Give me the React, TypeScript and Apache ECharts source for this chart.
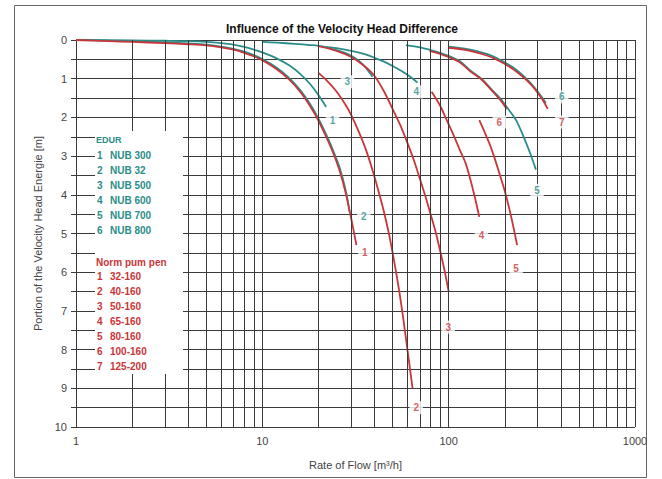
import React, { useEffect, useRef } from 'react';
import * as echarts from 'echarts';

const TEAL = '#2a8d89';
const RED = '#c9363a';
const GRID = '#3a3a3a';

const titleText = 'Influence of the Velocity Head Difference';
const xName = 'Rate of Flow [m³/h]';
const yName = 'Portion of the Velocity Head Energie [m]';

const edurTitle = 'EDUR';
const edurNames = ['NUB 300', 'NUB 32', 'NUB 500', 'NUB 600', 'NUB 700', 'NUB 800'];
const pumpTitle = 'Norm pum pen';
const pumpNames = ['32-160', '40-160', '50-160', '65-160', '80-160', '100-160', '125-200'];

// vertical grid positions (log minor divisions)
const xGridValues = [2, 3, 4, 5, 6, 7, 8, 9, 10, 20, 30, 40, 50, 60, 70, 80, 90, 100, 200, 300, 400, 500, 600, 700, 800, 900, 1000];

// EDUR NUB curves (teal)
const teal1X = [1, 2, 3, 4, 5, 6, 7, 8, 9, 10, 12, 14, 16, 18, 20, 22];
const teal1Y = [0, 0.01, 0.02, 0.03, 0.05, 0.08, 0.12, 0.18, 0.25, 0.32, 0.48, 0.66, 0.88, 1.13, 1.42, 1.73];
const teal2X = [1, 1.5, 2, 3, 4, 5, 6, 7, 8, 9, 10, 12, 14, 16, 18, 20, 22, 24, 26, 28, 29.4];
const teal2Y = [0, 0.02, 0.03, 0.06, 0.09, 0.12, 0.17, 0.23, 0.3, 0.39, 0.49, 0.72, 0.99, 1.3, 1.65, 2.03, 2.44, 2.86, 3.3, 3.88, 4.44];
const teal3X = [10, 12, 15, 18, 20, 22, 25, 28, 30, 33, 36, 39];
const teal3Y = [0.05, 0.07, 0.1, 0.13, 0.15, 0.19, 0.26, 0.34, 0.41, 0.54, 0.72, 0.95];
const teal4X = [21, 25, 30, 35, 40, 45, 50, 55, 60, 65, 68];
const teal4Y = [0.17, 0.21, 0.28, 0.36, 0.46, 0.56, 0.67, 0.78, 0.9, 1.02, 1.1];
const teal5X = [59, 70, 80, 90, 100, 115, 130, 150, 170, 190, 210, 230, 250, 270, 294];
const teal5Y = [0.13, 0.19, 0.26, 0.33, 0.41, 0.55, 0.78, 1.0, 1.28, 1.52, 1.8, 2.07, 2.45, 2.85, 3.35];
const teal6X = [100, 120, 140, 160, 180, 200, 220, 240, 260, 280, 300, 320, 332];
const teal6Y = [0.17, 0.22, 0.28, 0.36, 0.46, 0.58, 0.7, 0.84, 0.99, 1.15, 1.33, 1.51, 1.63];

// Normpumpen curves (red)
const red1X = [1, 1.5, 2, 3, 4, 5, 6, 7, 8, 9, 10, 12, 14, 16, 18, 20, 22, 24, 26, 28, 30, 32];
const red1Y = [0, 0.03, 0.05, 0.08, 0.11, 0.14, 0.19, 0.25, 0.33, 0.42, 0.52, 0.76, 1.03, 1.34, 1.7, 2.08, 2.5, 2.92, 3.38, 3.95, 4.62, 5.3];
const red2X = [20, 22, 25, 28, 30, 33, 36, 39, 42, 45, 48, 51, 54, 57, 60, 64];
const red2Y = [0.85, 1.03, 1.33, 1.68, 1.94, 2.38, 2.84, 3.36, 3.9, 4.45, 5.05, 5.72, 6.42, 7.18, 7.98, 9.0];
const red3X = [20, 25, 30, 35, 40, 45, 50, 55, 60, 65, 70, 75, 80, 85, 90, 95, 100];
const red3Y = [0.16, 0.28, 0.44, 0.66, 0.93, 1.33, 1.78, 2.2, 2.65, 3.1, 3.58, 4.04, 4.5, 4.95, 5.45, 5.95, 6.5];
const red4X = [81, 90, 97, 105, 115, 123, 130, 138, 146];
const red4Y = [1.34, 1.7, 2.04, 2.4, 2.85, 3.17, 3.56, 4.05, 4.57];
const red5X = [146, 155, 165, 175, 187, 200, 212, 223, 233];
const red5Y = [2.07, 2.35, 2.66, 3.0, 3.44, 3.9, 4.38, 4.85, 5.3];
const red6X = [79, 90, 100, 115, 130, 150, 170, 190, 205];
const red6Y = [0.28, 0.36, 0.44, 0.58, 0.8, 1.02, 1.3, 1.56, 1.78];
const red7X = [100, 120, 140, 160, 180, 200, 220, 240, 260, 280, 300, 320, 340];
const red7Y = [0.2, 0.25, 0.32, 0.4, 0.5, 0.62, 0.74, 0.88, 1.02, 1.18, 1.36, 1.55, 1.78];

// curve number labels
const tealLabelText = ['1', '2', '3', '4', '5', '6'];
const tealLabelX = [23.8, 35, 28.6, 67, 298, 405];
const tealLabelY = [2.07, 4.57, 1.08, 1.34, 3.88, 1.47];
const redLabelText = ['1', '2', '3', '4', '5', '6', '7'];
const redLabelX = [35.5, 67, 99.5, 150, 230, 187, 405];
const redLabelY = [5.48, 9.5, 7.42, 5.04, 5.9, 2.12, 2.12];

const zip = (xs: number[], ys: number[]) => xs.map((v, i) => [v, ys[i]]);

export default function App() {
  const ref = useRef<HTMLDivElement>(null);
  useEffect(() => {
    document.body.style.margin = '0';
    if (!ref.current) return;
    const chart = echarts.init(ref.current, undefined, { renderer: 'svg' });
    const font = '"Liberation Sans", Arial, sans-serif';
    const narrow = '"Liberation Sans Narrow", "Liberation Sans", Arial, sans-serif';

    const curve = (name: string, xs: number[], ys: number[], color: string, w: number) => ({
      name,
      type: 'line',
      data: zip(xs, ys),
      showSymbol: false,
      symbol: 'none',
      smooth: 0.3,
      z: 3,
      lineStyle: { color, width: w },
      silent: true,
    });

    const labelSeries = (texts: string[], xs: number[], ys: number[], color: string) => ({
      type: 'scatter',
      z: 5,
      symbolSize: 1,
      itemStyle: { color: 'rgba(0,0,0,0)' },
      silent: true,
      data: texts.map((t, i) => ({ name: t, value: [xs[i], ys[i]] })),
      label: {
        show: true,
        position: 'inside',
        formatter: (p: any) => p.name,
        color,
        fontWeight: 'bold',
        fontSize: 10,
        fontFamily: font,
        backgroundColor: '#fff',
        padding: [2, 4, 1, 4],
      },
    });

    const tealX = [teal1X, teal2X, teal3X, teal4X, teal5X, teal6X];
    const tealY = [teal1Y, teal2Y, teal3Y, teal4Y, teal5Y, teal6Y];
    const redX = [red1X, red2X, red3X, red4X, red5X, red6X, red7X];
    const redY = [red1Y, red2Y, red3Y, red4Y, red5Y, red6Y, red7Y];

    const series: any[] = [
      {
        type: 'line',
        data: [],
        z: 1,
        silent: true,
        markLine: {
          silent: true,
          symbol: 'none',
          label: { show: false },
          lineStyle: { color: GRID, width: 1, type: 'solid' },
          data: xGridValues.map((v) => ({ xAxis: v })),
        },
      },
    ];
    tealX.forEach((xs, i) => series.push(curve(edurNames[i], xs, tealY[i], TEAL, 1.8)));
    redX.forEach((xs, i) => series.push(curve(pumpNames[i], xs, redY[i], RED, 1.8)));
    series.push(labelSeries(tealLabelText, tealLabelX, tealLabelY, TEAL));
    series.push(labelSeries(redLabelText, redLabelX, redLabelY, RED));

    const legendTexts: any[] = [];
    legendTexts.push({ type: 'text', z: 11, style: { text: edurTitle, x: 96, y: 140, fill: TEAL, font: `bold 9px ${narrow}`, textVerticalAlign: 'middle' } });
    edurNames.forEach((n, i) => {
      const y = 155 + i * 15;
      legendTexts.push({ type: 'text', z: 11, style: { text: String(i + 1), x: 97, y, fill: TEAL, font: `bold 10px ${narrow}`, textVerticalAlign: 'middle' } });
      legendTexts.push({ type: 'text', z: 11, style: { text: n, x: 110, y, fill: TEAL, font: `bold 10px ${narrow}`, textVerticalAlign: 'middle' } });
    });
    legendTexts.push({ type: 'text', z: 11, style: { text: pumpTitle, x: 96, y: 262, fill: RED, font: `bold 10px ${narrow}`, textVerticalAlign: 'middle' } });
    pumpNames.forEach((n, i) => {
      const y = 276 + i * 15;
      legendTexts.push({ type: 'text', z: 11, style: { text: String(i + 1), x: 97, y, fill: RED, font: `bold 10px ${narrow}`, textVerticalAlign: 'middle' } });
      legendTexts.push({ type: 'text', z: 11, style: { text: n, x: 110, y, fill: RED, font: `bold 10px ${narrow}`, textVerticalAlign: 'middle' } });
    });

    chart.setOption({
      animation: false,
      backgroundColor: '#fff',
      grid: { left: 76, right: 27, top: 40, bottom: 52 },
      xAxis: {
        type: 'log',
        logBase: 10,
        min: 1,
        max: 1000,
        splitNumber: 3,
        name: xName,
        nameLocation: 'middle',
        nameGap: 32,
        nameTextStyle: { color: '#444', fontSize: 11, fontFamily: font },
        axisLine: { show: true, lineStyle: { color: GRID, width: 1 } },
        axisTick: { show: true, length: 4, lineStyle: { color: GRID } },
        axisLabel: { color: '#444', fontSize: 11, fontFamily: font, margin: 8, formatter: (v: number) => String(Math.round(v)) },
        splitLine: { show: false },
      },
      yAxis: {
        type: 'value',
        inverse: true,
        min: 0,
        max: 10,
        interval: 1,
        name: yName,
        nameLocation: 'middle',
        nameRotate: 90,
        nameGap: 33,
        nameTextStyle: { color: '#444', fontSize: 11, fontFamily: font },
        axisLine: { show: true, lineStyle: { color: GRID, width: 1 } },
        axisTick: { show: true, length: 5, lineStyle: { color: GRID } },
        minorTick: { show: true, splitNumber: 2, length: 5, lineStyle: { color: GRID } },
        axisLabel: { color: '#444', fontSize: 11, fontFamily: font, margin: 9 },
        splitLine: { show: true, lineStyle: { color: GRID, width: 1 } },
        minorSplitLine: { show: true, lineStyle: { color: GRID, width: 1 } },
      },
      graphic: [
        { type: 'rect', z: -1, silent: true, shape: { x: 14.5, y: 5.5, width: 632, height: 472 }, style: { fill: 'none', stroke: '#666', lineWidth: 1 } },
        { type: 'text', z: 11, style: { text: titleText, x: 342, y: 29, fill: '#111', font: `bold 12px ${narrow}`, textAlign: 'center', textVerticalAlign: 'middle' } },
        { type: 'rect', z: 10, silent: true, shape: { x: 95, y: 131, width: 88, height: 243 }, style: { fill: '#fff', stroke: 'none' } },
        ...legendTexts,
      ],
      series,
    });
    return () => chart.dispose();
  }, []);
  return <div ref={ref} style={{ width: 662, height: 479 }} />;
}
